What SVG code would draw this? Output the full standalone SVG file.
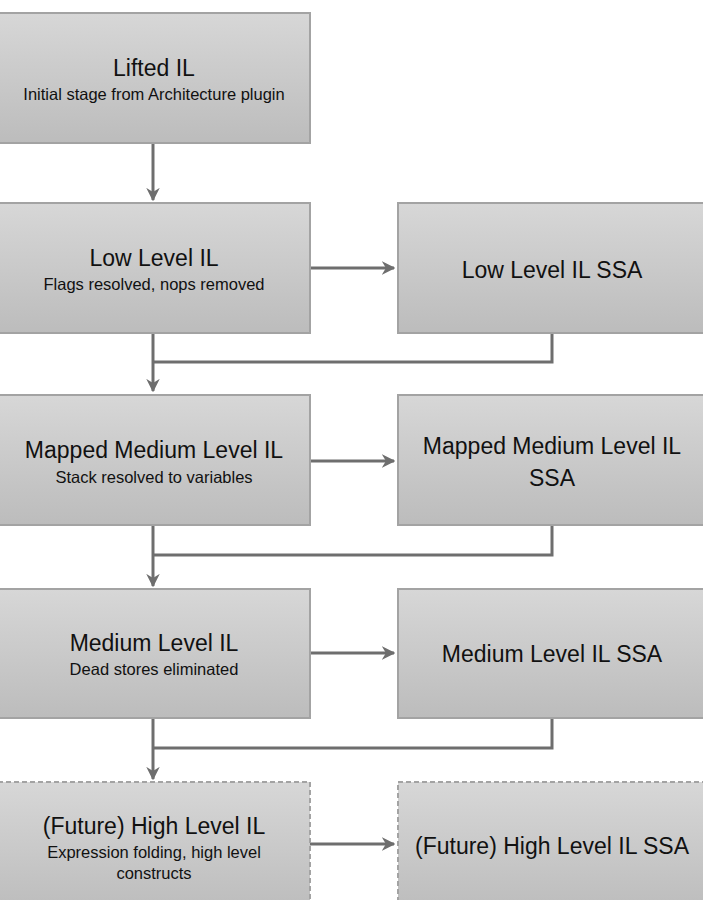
<svg xmlns="http://www.w3.org/2000/svg" width="703" height="900" viewBox="0 0 703 900">
<defs>
<linearGradient id="g" x1="0" y1="0" x2="0" y2="1">
<stop offset="0" stop-color="#d7d7d7"/>
<stop offset="1" stop-color="#bcbcbc"/>
</linearGradient>
<marker id="arr" viewBox="0 0 10 10" refX="9" refY="5" markerWidth="4.5" markerHeight="4.5" orient="auto" markerUnits="strokeWidth">
<path d="M0,0 L10,5 L0,10 L3,5 Z" fill="#6e6e6e"/>
</marker>
<style>
.box{fill:url(#g);stroke:#a3a3a3;stroke-width:2}
.dash{stroke-dasharray:5,3}
.t{font-family:"Liberation Sans",Arial,sans-serif;font-size:23px;fill:#111;text-anchor:middle}
.s{font-family:"Liberation Sans",Arial,sans-serif;font-size:16.5px;fill:#111;text-anchor:middle}
.c{fill:none;stroke:#6e6e6e;stroke-width:3}
</style>
</defs>
<rect width="703" height="900" fill="#fff"/>
<g id="connectors">
<path class="c" d="M153,143 V200" marker-end="url(#arr)"/>
<path class="c" d="M310,268 H394" marker-end="url(#arr)"/>
<path class="c" d="M552,333 V362 H153"/>
<path class="c" d="M153,333 V391" marker-end="url(#arr)"/>
<path class="c" d="M310,461 H394" marker-end="url(#arr)"/>
<path class="c" d="M552,525 V555 H153"/>
<path class="c" d="M153,525 V586" marker-end="url(#arr)"/>
<path class="c" d="M310,653 H394" marker-end="url(#arr)"/>
<path class="c" d="M552,718 V748 H153"/>
<path class="c" d="M153,718 V779" marker-end="url(#arr)"/>
<path class="c" d="M310,844 H394" marker-end="url(#arr)"/>
</g>
<g id="lifted-il">
<rect class="box" x="-2" y="13" width="312" height="130"/>
<text class="t" x="154" y="76">Lifted IL</text>
<text class="s" x="154" y="100">Initial stage from Architecture plugin</text>
</g>
<g id="low-level-il">
<rect class="box" x="-2" y="203" width="312" height="130"/>
<text class="t" x="154" y="266">Low Level IL</text>
<text class="s" x="154" y="290">Flags resolved, nops removed</text>
</g>
<g id="low-level-il-ssa">
<rect class="box" x="398" y="203" width="310" height="130"/>
<text class="t" x="552" y="278">Low Level IL SSA</text>
</g>
<g id="mapped-medium-level-il">
<rect class="box" x="-2" y="395" width="312" height="130"/>
<text class="t" x="154" y="458">Mapped Medium Level IL</text>
<text class="s" x="154" y="483">Stack resolved to variables</text>
</g>
<g id="mapped-medium-level-il-ssa">
<rect class="box" x="398" y="395" width="310" height="130"/>
<text class="t" x="552" y="454">Mapped Medium Level IL</text>
<text class="t" x="552" y="486">SSA</text>
</g>
<g id="medium-level-il">
<rect class="box" x="-2" y="589" width="312" height="129"/>
<text class="t" x="154" y="651">Medium Level IL</text>
<text class="s" x="154" y="675">Dead stores eliminated</text>
</g>
<g id="medium-level-il-ssa">
<rect class="box" x="398" y="589" width="310" height="129"/>
<text class="t" x="552" y="662">Medium Level IL SSA</text>
</g>
<g id="high-level-il">
<rect class="box dash" x="-2" y="782" width="312" height="130"/>
<text class="t" x="154" y="834">(Future) High Level IL</text>
<text class="s" x="154" y="858">Expression folding, high level</text>
<text class="s" x="154" y="879">constructs</text>
</g>
<g id="high-level-il-ssa">
<rect class="box dash" x="398" y="782" width="310" height="130"/>
<text class="t" x="552" y="854">(Future) High Level IL SSA</text>
</g>
</svg>
